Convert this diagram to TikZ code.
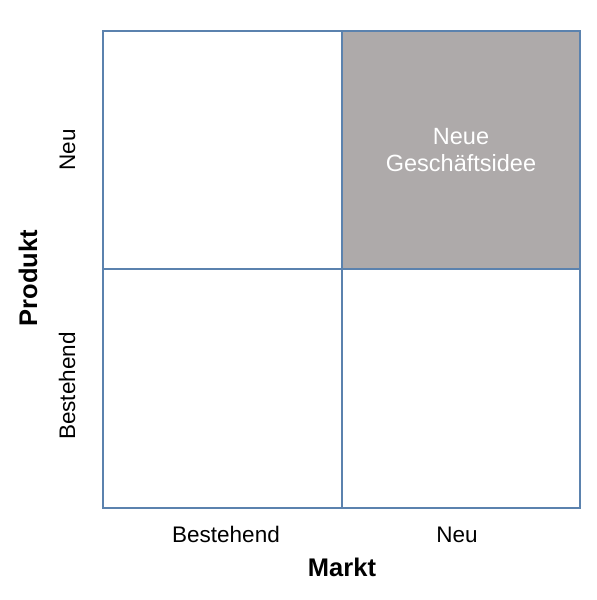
\documentclass[tikz,border=0pt]{standalone}
\usepackage{fontspec}
\setmainfont{Liberation Sans}
\definecolor{gridblue}{HTML}{5B82AE}
\definecolor{cellgray}{HTML}{AEAAAA}
\begin{document}
\begin{tikzpicture}[x=1pt,y=-1pt,
  gridline/.style={draw=gridblue,line width=1.1pt},
  lab/.style={font=\fontsize{22.5}{27}\selectfont,inner sep=0pt},
  axis/.style={font=\fontsize{25.5}{30}\selectfont\bfseries,inner sep=0pt}]
\useasboundingbox (0,0) rectangle (597,600);
\node[fill=cellgray,minimum width=238pt,minimum height=238pt,inner sep=0pt,outer sep=0pt] (tr) at (461,150) {};
\coordinate (tl) at (103,31);
\coordinate (br) at (580,508);
\coordinate (mt) at (342,31);
\coordinate (mb) at (342,508);
\coordinate (ml) at (103,269);
\coordinate (mr) at (580,269);
\draw[gridline] (tl) rectangle (br);
\draw[gridline] (mt) -- (mb);
\draw[gridline] (ml) -- (mr);
\node[lab,text=white,align=center,font=\fontsize{23.5}{27}\selectfont] (idea) at (461,150) {Neue\\Geschäftsidee};
\node[lab,anchor=base] (xb) at (226,542) {Bestehend};
\node[lab,anchor=base] (xn) at (457,542) {Neu};
\node[axis,anchor=base] (markt) at (342,576) {Markt};
\node[lab,anchor=base,rotate=90] (pn) at (75,150) {Neu};
\node[lab,anchor=base,rotate=90] (pb) at (75,386) {Bestehend};
\node[axis,anchor=base,rotate=90] (prod) at (37,278) {Produkt};
\end{tikzpicture}
\end{document}
